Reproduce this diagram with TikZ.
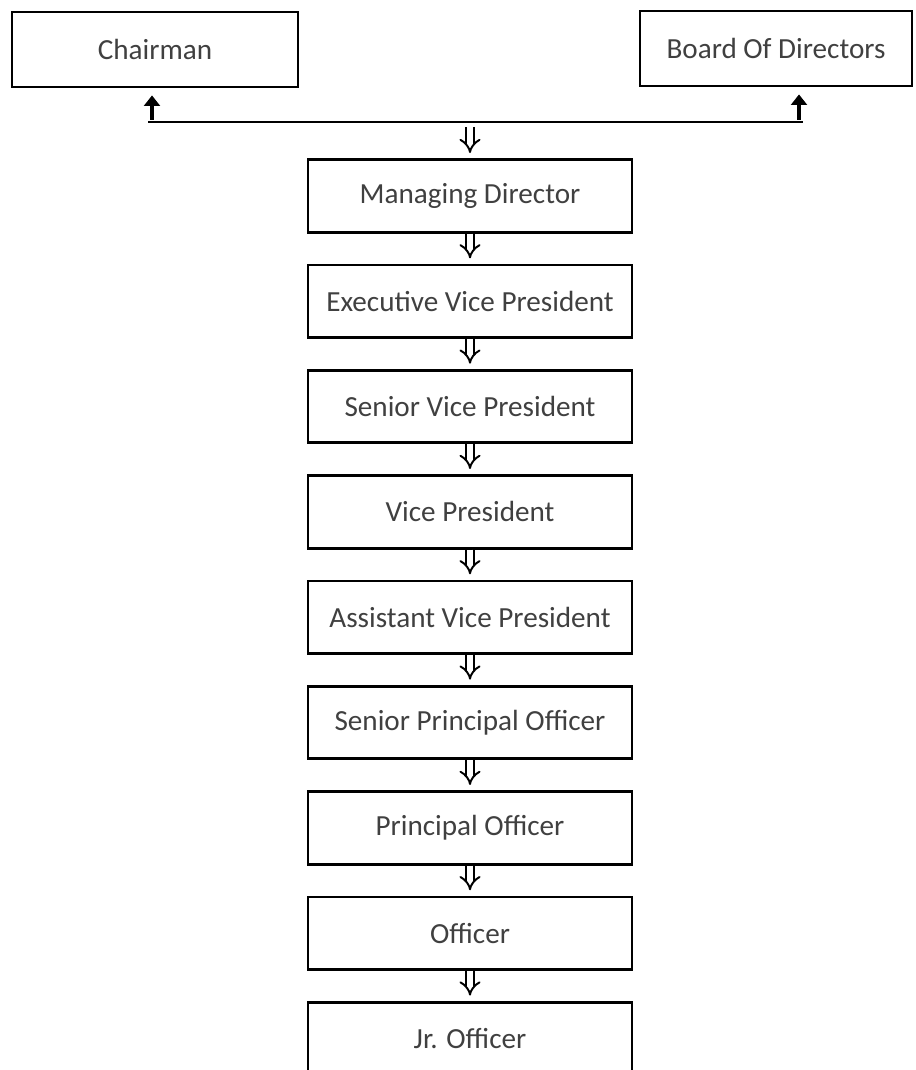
\documentclass[tikz,border=0pt]{standalone}
\usepackage{fontspec}
\setmainfont{Carlito}
\usetikzlibrary{positioning,arrows.meta}
\tikzset{
  post/.style={draw=black, line width=1.6pt, minimum width=6.48cm, minimum height=1.45cm,
    text=black!75, font=\fontsize{16.6}{19}\selectfont},
  hollowarrow/.style={double, double distance=3pt, line width=1.1pt, -{Implies}, shorten >=3pt},
  solidarrow/.style={line width=2.8pt, -{Triangle[length=6pt,width=9pt]}, shorten >=4pt}
}
\begin{document}
\begin{tikzpicture}[node distance=0.6cm]
  \useasboundingbox (0,0) rectangle (18.3,21.4);
  % top
  \node[post, minimum width=5.72cm, minimum height=1.5cm] (chair) at (3.10,20.41) {Chairman};
  \node[post, minimum width=5.44cm, minimum height=1.5cm] (board) at (15.52,20.43) {Board Of Directors};
  \coordinate (jl) at (2.96,18.96);
  \coordinate (jr) at (16.06,18.96);
  \coordinate (cu) at (3.04,19.0);
  \coordinate (bu) at (15.98,19.0);
  \coordinate (jm) at (9.40,18.86);
  \draw[line width=1.6pt] (jl) -- (jr);
  \draw[solidarrow] (cu) -- (cu |- chair.south);
  \draw[solidarrow] (bu) -- (bu |- board.south);

  % column
  \node[post] (md) at (9.40,17.48) {Managing Director};
  \node[post, below=of md] (evp) {Executive Vice President};
  \node[post, below=of evp] (svp) {Senior Vice President};
  \node[post, below=of svp] (vp) {Vice President};
  \node[post, below=of vp] (avp) {Assistant Vice President};
  \node[post, below=of avp] (spo) {Senior Principal Officer};
  \node[post, below=of spo] (po) {Principal Officer};
  \node[post, below=of po] (off) {Officer};
  \node[post, below=of off] (jro) {Jr. Officer};

  \draw[hollowarrow] (jm) -- (md);
  \draw[hollowarrow] (md) -- (evp);
  \draw[hollowarrow] (evp) -- (svp);
  \draw[hollowarrow] (svp) -- (vp);
  \draw[hollowarrow] (vp) -- (avp);
  \draw[hollowarrow] (avp) -- (spo);
  \draw[hollowarrow] (spo) -- (po);
  \draw[hollowarrow] (po) -- (off);
  \draw[hollowarrow] (off) -- (jro);
\end{tikzpicture}
\end{document}
